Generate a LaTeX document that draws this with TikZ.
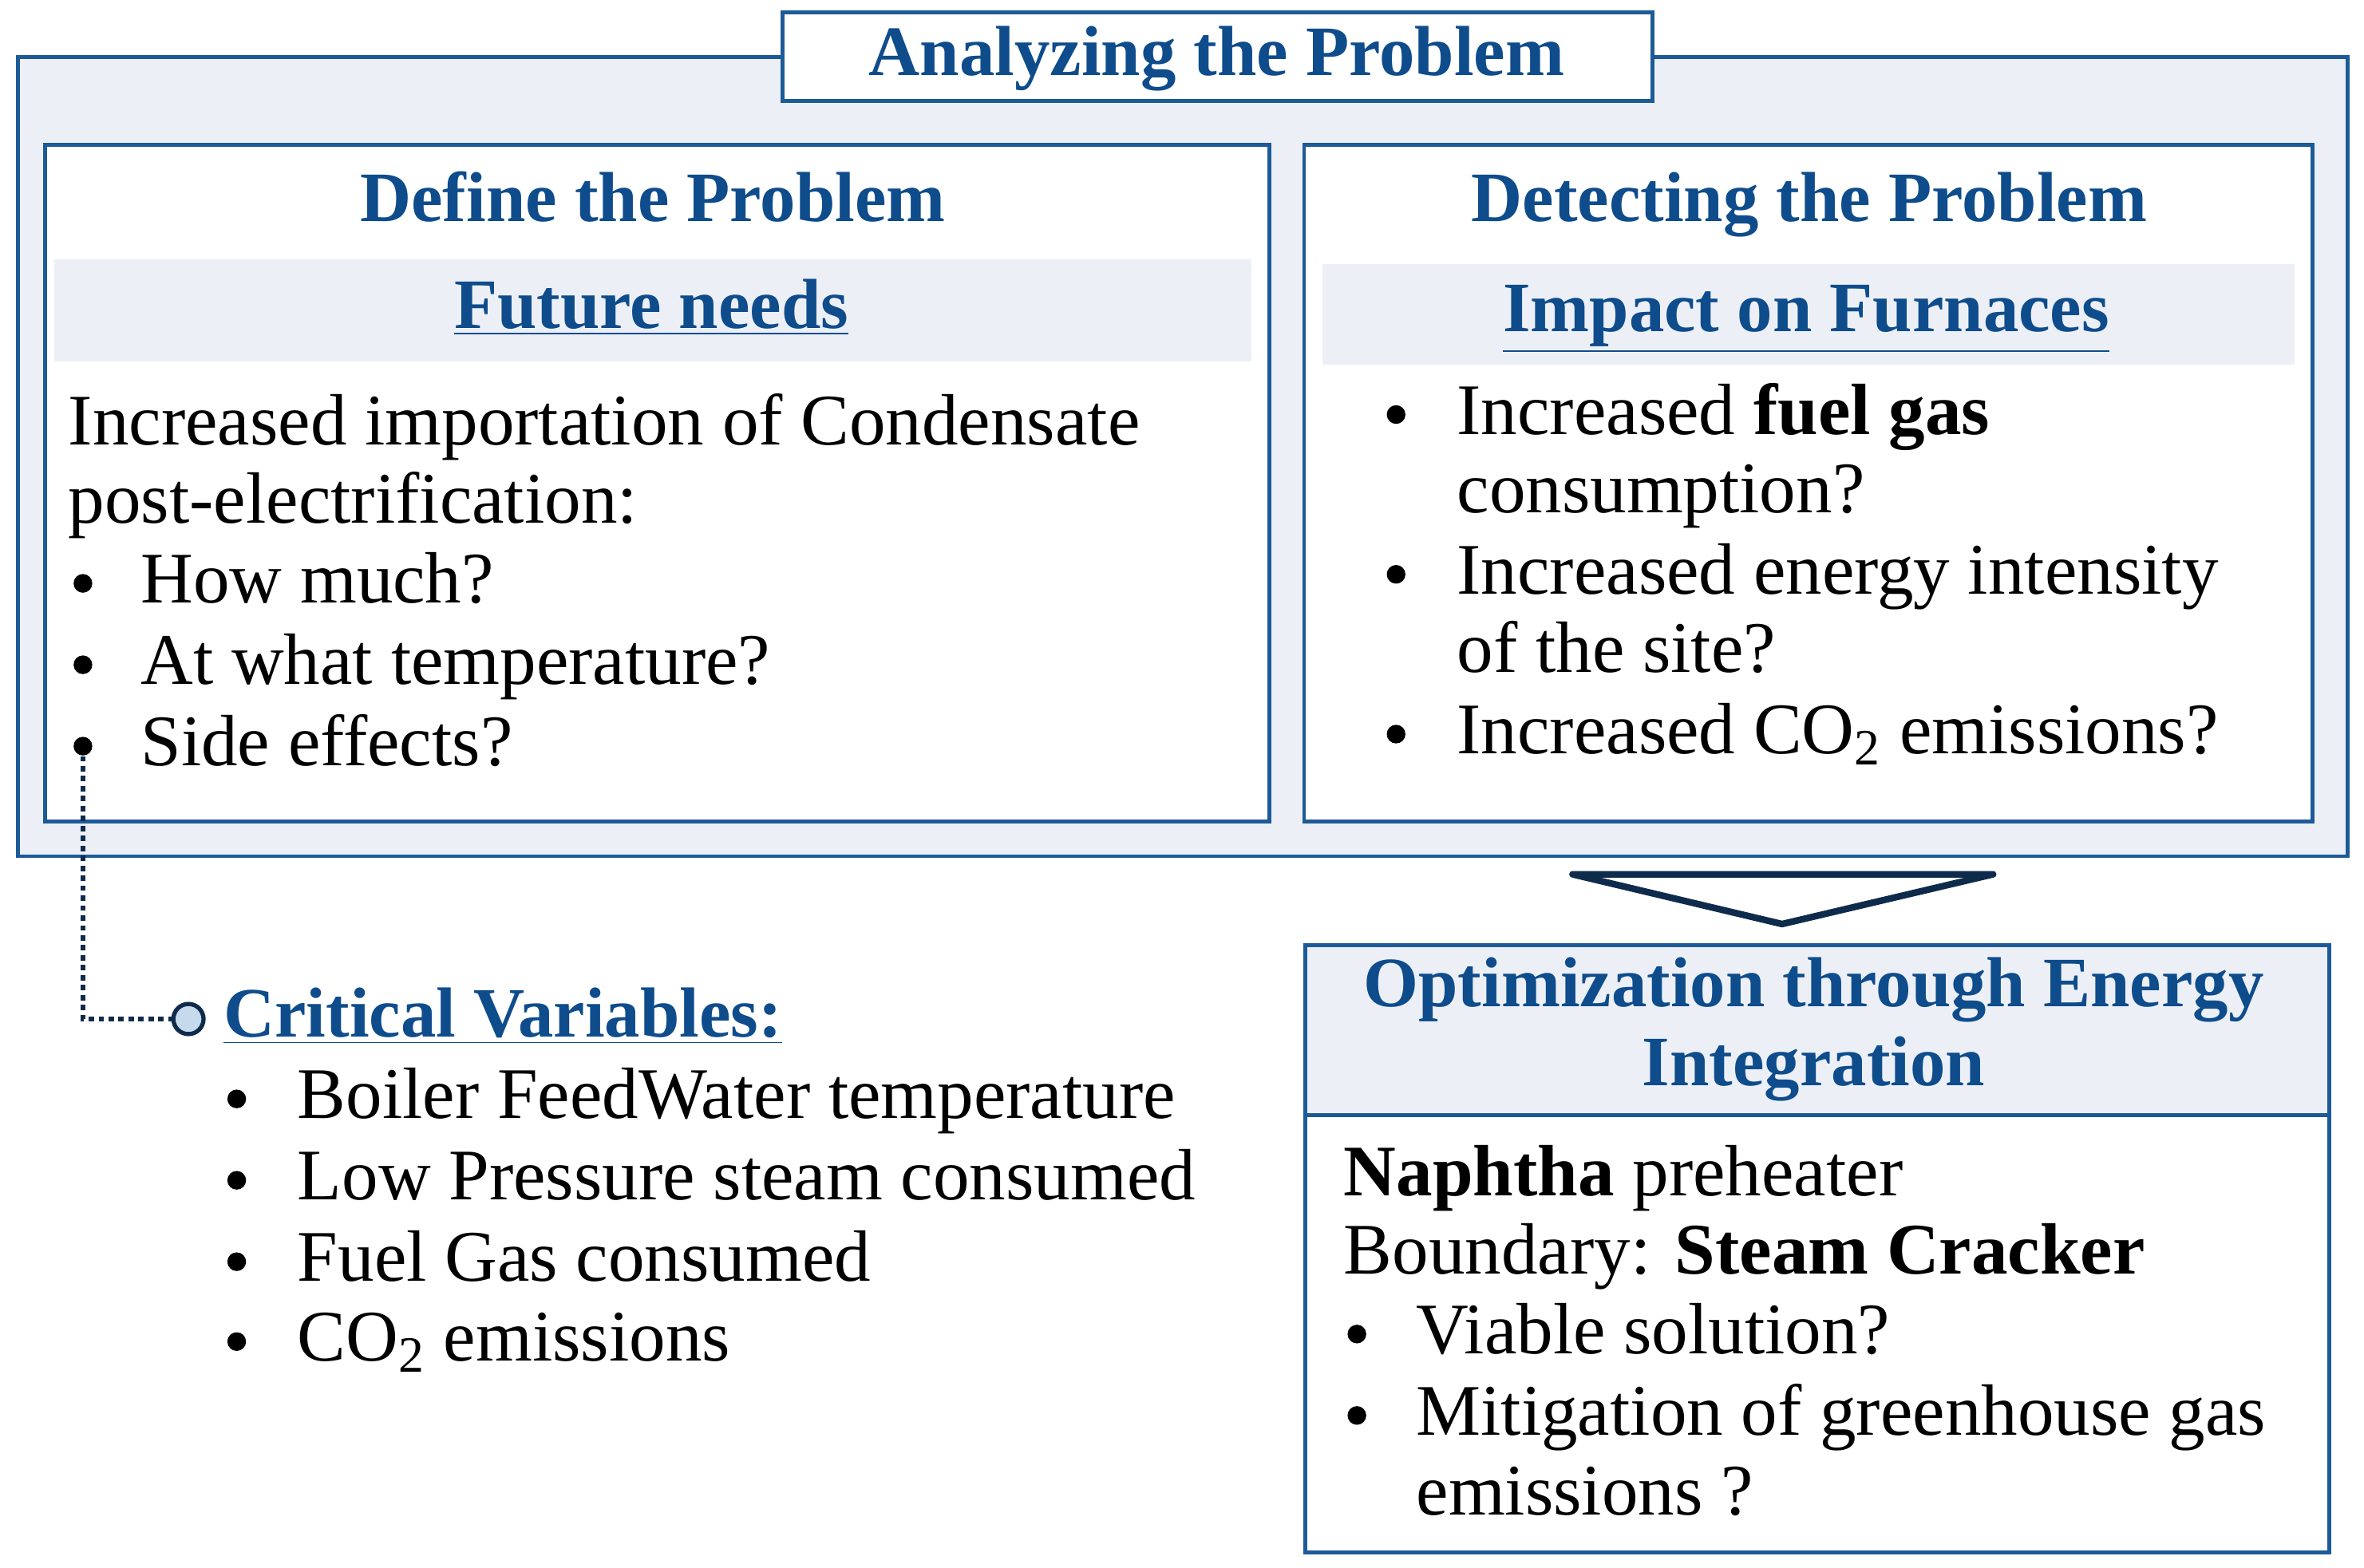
\documentclass[tikz,border=0pt]{standalone}
\usepackage{fontspec}
\setmainfont{Liberation Serif}
\definecolor{bluetxt}{HTML}{0E4C8C}
\definecolor{bordc}{HTML}{1D5A98}
\definecolor{lightf}{HTML}{ECF0F6}
\definecolor{navy}{HTML}{0F2B4C}
\definecolor{circf}{HTML}{C6DAEE}
\newcommand{\ulin}[1]{\underline{#1}}
\tikzset{
  body/.style={font=\fontsize{24.1}{28}\selectfont, text=black, inner sep=0pt, anchor=base west},
  head/.style={font=\fontsize{23.5}{28}\selectfont\bfseries, text=bluetxt, inner sep=0pt, anchor=base},
  frame/.style={draw=bordc, line width=1.3pt},
  band/.style={fill=lightf, draw=none},
  bul/.style={circle, fill=black, inner sep=0pt, minimum size=6.2pt, yshift=6.5pt},
}
\begin{document}
\begin{tikzpicture}[x=0.5pt,y=-0.5pt]
\useasboundingbox (0,0) rectangle (1568,1040);
% outer frame
\path[frame, fill=lightf] (12,38) rectangle (1557,568);
% inner boxes
\path[frame, fill=white] (30,96) rectangle (842,545);
\path[frame, fill=white] (865,96) rectangle (1534,545);
\path[band] (36,172) rectangle (830,240);
\path[band] (877,175) rectangle (1522,242);
% title
\path[frame, fill=white] (519,8) rectangle (1096,67);
\node[head] (title) at (807,50) {Analyzing the Problem};
% left box
\node[head] (defh) at (433,147) {Define the Problem};
\node[head] (futn) at (432,218) {\ulin{Future needs}};
\node[body] (l1) at (45,295) {Increased importation of Condensate};
\node[body] (l2) at (45,347) {post-electrification:};
\node[bul] (b1) at (55,400) {};
\node[body] (l3) at (93,400) {How much?};
\node[bul] (b2) at (55,454) {};
\node[body] (l4) at (93,454) {At what temperature?};
\node[bul] (b3) at (55,508) {};
\node[body] (l5) at (93,508) {Side effects?};
% right box
\node[head] (deth) at (1200,147) {Detecting the Problem};
\node[head] (impf) at (1198,220) {\ulin{Impact on Furnaces}};
\node[bul] (r1b) at (926,288) {};
\node[body] (r1) at (966,288) {Increased \textbf{fuel gas}};
\node[body] (r2) at (966,340) {consumption?};
\node[bul] (r3b) at (926,394) {};
\node[body] (r3) at (966,394) {Increased energy intensity};
\node[body] (r4) at (966,446) {of the site?};
\node[bul] (r5b) at (926,500) {};
\node[body] (r5) at (966,500) {Increased CO\textsubscript{2} emissions?};
% triangle
\draw[navy, line width=2.2pt, line join=round, fill=white] (1043,580) -- (1322,580) -- (1182,613) -- cycle;
% bottom right box
\path[frame, fill=white] (866,627) rectangle (1545,1030);
\path[frame, fill=lightf] (866,627) rectangle (1545,740);
\node[head] (opt1) at (1203,668) {Optimization through Energy};
\node[head] (opt2) at (1203,720) {Integration};
\node[body] (o1) at (891,793) {\textbf{Naphtha} preheater};
\node[body] (o2) at (891,845) {Boundary: \textbf{Steam Cracker}};
\node[bul] (o3b) at (900,898) {};
\node[body] (o3) at (939,898) {Viable solution?};
\node[bul] (o4b) at (900,952) {};
\node[body] (o4) at (939,952) {Mitigation of greenhouse gas};
\node[body] (o5) at (939,1005) {emissions ?};
% critical variables
\node[circle, draw=navy, fill=circf, line width=1.4pt, minimum size=10pt, inner sep=0pt] (circ) at (125,676) {};
\node[head, anchor=base west] (crit) at (148,688) {\ulin{Critical Variables:}};
\node[bul] (c1b) at (157,742) {};
\node[body] (c1) at (197,742) {Boiler FeedWater temperature};
\node[bul] (c2b) at (157,796) {};
\node[body] (c2) at (197,796) {Low Pressure steam consumed};
\node[bul] (c3b) at (157,850) {};
\node[body] (c3) at (197,850) {Fuel Gas consumed};
\node[bul] (c4b) at (157,903) {};
\node[body] (c4) at (197,903) {CO\textsubscript{2} emissions};
% dotted connector
\coordinate (corner) at (55,676);
\draw[navy, line width=1.6pt, dash pattern=on 1.8pt off 1.5pt] (b3.south) -- (corner) -- (circ.west);
\end{tikzpicture}
\end{document}
